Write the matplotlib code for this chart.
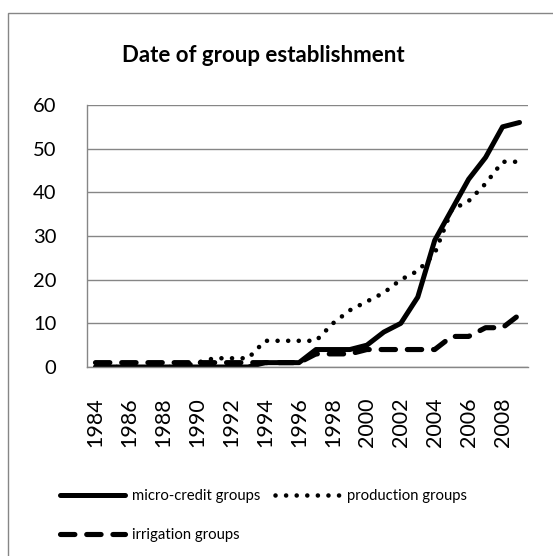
import matplotlib
matplotlib.use('Agg')
import matplotlib.pyplot as plt
from matplotlib.patches import Rectangle

# dados
anos = list(range(1984, 2010))
micro_credito = [0, 0, 0, 0, 0, 0, 0, 0, 0, 0, 1, 1, 1, 4, 4, 4, 5, 8, 10, 16, 29, 36, 43, 48, 55, 56]
producao = [0, 0, 0, 0, 0, 0, 1, 2, 2, 2, 6, 6, 6, 6, 10, 13, 15, 17, 20, 22, 26, 36, 38, 42, 47, 47]
irrigacao = [1, 1, 1, 1, 1, 1, 1, 1, 1, 1, 1, 1, 1, 3, 3, 3, 4, 4, 4, 4, 4, 7, 7, 9, 9, 12]
rotulos_x = [str(a) if a % 2 == 0 else '' for a in anos]

plt.rcParams['font.family'] = ['Lato', 'DejaVu Sans']

fig = plt.figure(figsize=(5.53, 5.56), dpi=100)
fig.patches.append(Rectangle((8 / 553, -0.1), 1.2, 1 - 13 / 556 + 0.1, transform=fig.transFigure,
                             fill=False, edgecolor='#868686', linewidth=1))

ax = fig.add_axes([87 / 553, 1 - 367 / 556, (528 - 87) / 553, (367 - 105) / 556])
x = list(range(len(anos)))

l1, = ax.plot(x, micro_credito, color='black', linewidth=3.6, solid_capstyle='round',
              solid_joinstyle='round', label='micro-credit groups')
l2, = ax.plot(x, producao, color='black', linewidth=3.3, linestyle=(0, (0.01, 2.3)),
              dash_capstyle='round', label='production groups')
l3, = ax.plot(x, irrigacao, color='black', linewidth=3.7, linestyle=(0, (2.8, 2.3)),
              dash_capstyle='round', label='irrigation groups')

ax.set_xlim(-0.5, len(anos) - 0.5)
ax.set_ylim(0, 60)
ax.set_yticks([0, 10, 20, 30, 40, 50, 60])
ax.set_xticks(x)
ax.set_xticklabels(rotulos_x, rotation=90)
ax.tick_params(axis='both', length=0, labelsize=14.5)
ax.tick_params(axis='x', labelsize=15.5)
ax.tick_params(axis='y', pad=22)
ax.tick_params(axis='x', pad=22)
ax.grid(axis='y', color='#868686', linewidth=1)
ax.set_axisbelow(True)
for lado in ['top', 'right']:
    ax.spines[lado].set_visible(False)
for lado in ['left', 'bottom']:
    ax.spines[lado].set_color('#868686')
    ax.spines[lado].set_linewidth(1)

fig.text(263 / 553, 1 - 55 / 556, 'Date of group establishment', ha='center', va='center',
         fontsize=16, fontweight='bold')

fig.legend([l1, l3, l2], ['micro-credit groups', 'irrigation groups', 'production groups'],
           ncol=2, loc='upper left', bbox_to_anchor=(60 / 553, 1 - 489 / 556), frameon=False,
           fontsize=10.7, handlelength=4.4, handletextpad=0.45, columnspacing=1.0,
           labelspacing=1.7, borderpad=0, borderaxespad=0)

fig.savefig('out.png', dpi=100)
